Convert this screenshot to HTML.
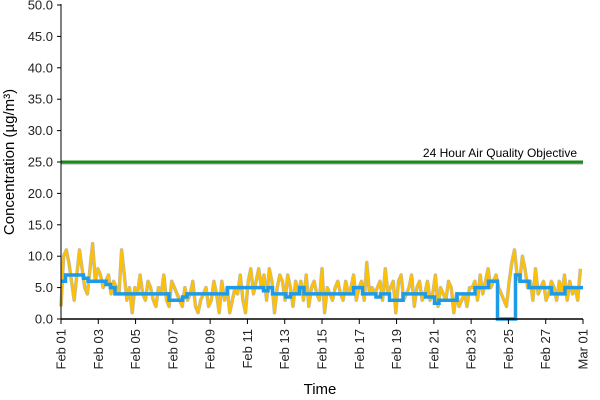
<!DOCTYPE html>
<html><head><meta charset="utf-8"><style>
body{margin:0;background:#fff}
svg{display:block;font-family:"Liberation Sans",Arial,sans-serif}
</style></head><body>
<svg id="chart" width="600" height="400" xmlns="http://www.w3.org/2000/svg"></svg>
<script>
// concentration readings (every 4 hours), Feb 01 -> Mar 01
const rawValues = [
 2,10,11,9,6,3, 7,11,8,5,4,8, 12,6,8,7,5,6, 7,4,6,5,4,11, 7,3,5,1,5,4,
 7,4,3,6,5,3, 2,5,4,7,3,2, 6,5,4,3,2,5, 3,4,6,2,1,3, 4,5,2,3,6,4,
 1,6,3,5,1,3, 5,4,7,3,1,6, 8,4,6,8,5,7, 3,8,6,1,5,7, 6,3,7,5,2,6,
 4,6,3,7,2,5, 6,4,3,8,1,5, 4,3,5,6,4,3, 6,4,5,7,3,5, 6,3,9,4,5,4,
 5,6,3,8,4,5, 6,1,6,7,3,4, 5,7,2,5,6,3, 4,6,3,4,7,2, 5,4,3,6,5,1,
 4,2,3,4,2,5, 5,6,3,7,4,6, 8,5,6,7,5,4, 3,2,6,9,11,7, 6,10,8,5,6,3,
 8,4,5,6,3,4, 6,5,3,6,4,7, 3,6,4,5,3,8
];
// running 24h mean (every 6 hours)
const meanValues = [
 6,7,7,7, 7,6.5,6,6, 6,6,5.5,5, 4,4,4,4, 4,4,4,4, 4,4,4,4, 3,3,3,3.5,
 4,4,4,4, 4,4,4,4, 4,5,5,5, 5,5,5,5, 5,4.5,5,4, 4,4,3.5,4, 4,5,4,4,
 4,4,4,4, 4,4,4,4, 4,5,5,4, 4,4,3.5,4, 4,3,3,3, 4,4,4,4, 4,3.5,3.5,2.5,
 3,3,3,3, 4,4,4,4, 5,5,5,6, 6,0,0,0, 0,7,6,6, 5,5,5,5, 5,4,4,4, 5,5,5,5
];
const yTicks = [0,5,10,15,20,25,30,35,40,45,50];
const xTickLabels = ["Feb 01","Feb 03","Feb 05","Feb 07","Feb 09","Feb 11","Feb 13","Feb 15","Feb 17","Feb 19","Feb 21","Feb 23","Feb 25","Feb 27","Mar 01"];
const xTickDays = [0,2,4,6,8,10,12,14,16,18,20,22,24,26,28];
const objectiveValue = [25];

const NS="http://www.w3.org/2000/svg";
const svg=document.getElementById('chart');
const X0=61,X1=583,Y0=319,Y1=5;
const xs=d=>X0+(X1-X0)*d/28;
const ys=v=>Y0-(Y0-Y1)*v/50;
function mk(t,a,p){const e=document.createElementNS(NS,t);for(const k in a)e.setAttribute(k,a[k]);(p||svg).appendChild(e);return e;}

const g=objectiveValue[0];
const objShadow=mk('line',{x1:X0,x2:X1,y1:ys(g)+1.5,y2:ys(g)+1.5,stroke:'#aaa','stroke-width':2});


const obj=mk('line',{x1:X0,x2:X1,y1:ys(g),y2:ys(g),stroke:'#1b8a1b','stroke-width':3});


const objLbl=mk('text',{x:577,y:ys(g)-5,'text-anchor':'end','font-size':12,fill:'#000'});
objLbl.textContent='24 Hour Air Quality Objective';



const rawStep=28/rawValues.length;
let rp=rawValues.map((v,i)=>xs(i*rawStep).toFixed(1)+','+ys(v).toFixed(1)).join(' ');
const rawSh=mk('polyline',{points:rp,fill:'none',stroke:'#b8b8b8','stroke-width':3.5,'stroke-linejoin':'round'});


const raw=mk('polyline',{points:rp,fill:'none',stroke:'#ffc000','stroke-width':2.2,'stroke-linejoin':'round'});



const mStep=28/meanValues.length;
let mp=[];
meanValues.forEach((v,i)=>{mp.push(xs(i*mStep).toFixed(1)+','+ys(v).toFixed(1));mp.push(xs((i+1)*mStep).toFixed(1)+','+ys(v).toFixed(1));});
const mean=mk('polyline',{points:mp.join(' '),fill:'none',stroke:'#1e9be8','stroke-width':3.5});



const ya=mk('line',{x1:X0,x2:X0,y1:Y1-1,y2:Y0,stroke:'#000','stroke-width':1});


const xa=mk('line',{x1:X0,x2:X1,y1:Y0,y2:Y0,stroke:'#000','stroke-width':1.5});


yTicks.forEach(v=>{
  const t=mk('line',{x1:X0-4,x2:X0,y1:ys(v),y2:ys(v),stroke:'#000'});
  
  
  const l=mk('text',{x:X0-8,y:ys(v)+4.5,'text-anchor':'end','font-size':13,fill:'#222'});
  l.textContent=v.toFixed(1);
  
  
});
xTickDays.forEach((d,i)=>{
  const x=xs(d);
  const t=mk('line',{x1:x,x2:x,y1:Y0,y2:Y0+5,stroke:'#000'});
  
  
  const l=mk('text',{x:0,y:0,'text-anchor':'end','font-size':13,fill:'#222',transform:`translate(${x+4.5},${Y0+10}) rotate(-90)`});
  l.textContent=xTickLabels[i];
  
  
});
const xt=mk('text',{x:320,y:394,'text-anchor':'middle','font-size':15,fill:'#000'});
xt.textContent='Time';


const yt=mk('text',{x:0,y:0,'text-anchor':'middle','font-size':15,fill:'#000',transform:'translate(14,162) rotate(-90)'});
yt.textContent='Concentration (µg/m³)';


</script>
</body></html>
